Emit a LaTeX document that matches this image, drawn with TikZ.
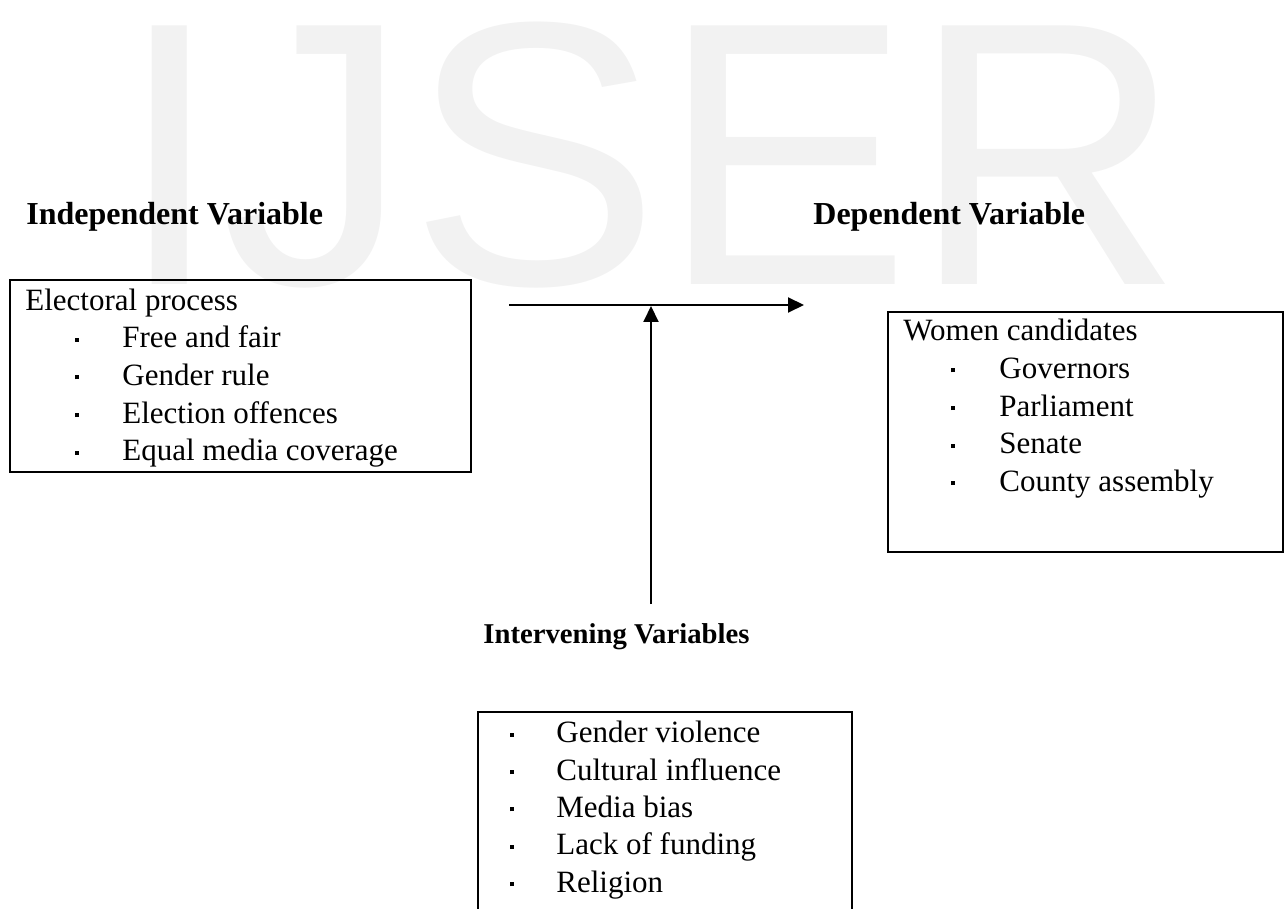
\documentclass[tikz,border=0pt]{standalone}
\usepackage{fontspec}
\setmainfont{Liberation Serif}
\newfontfamily\wmfont{Liberation Sans}
\usetikzlibrary{arrows.meta,fit}
\definecolor{wm}{RGB}{242,242,242}
\tikzset{
 txt/.style={anchor=base west, inner sep=0pt, font=\fontsize{15.5}{18.75}\selectfont},
 head/.style={anchor=base west, inner sep=0pt, font=\fontsize{16}{19}\selectfont\bfseries},
 bul/.style={anchor=base, inner sep=0pt},
 boxframe/.style={draw, line width=1.1pt, inner sep=0pt},
 arr/.style={line width=1pt, -{Triangle[length=8pt,width=7.5pt]}},
}
\newcommand{\bulletmark}{\raisebox{3pt}{\rule{2pt}{2pt}}}
\begin{document}
\begin{tikzpicture}[x=0.5pt,y=-0.5pt]
\useasboundingbox (0,0) rectangle (1286,909);
% watermark
\node[anchor=base west, inner sep=0pt, text=wm, font=\wmfont\fontsize{188}{200}\selectfont] (wmark) at (117,285) {IJSER};
% headings
\node[head] (indep) at (26,225) {Independent Variable};
\node[head] (dep) at (813,225) {Dependent Variable};
\node[anchor=base west, inner sep=0pt, font=\fontsize{14.35}{18}\selectfont\bfseries] (interv) at (483,643) {Intervening Variables};
% box 1
\coordinate (p1a) at (10,280); \coordinate (p1b) at (471,472);
\node[boxframe, fit=(p1a)(p1b)] (box1) {};
\node[txt] (etitle) at (25,310.5) {Electoral process};
\foreach \t [count=\i] in {Free and fair, Gender rule, Election offences, Equal media coverage} {
  \node[bul] (eb\i) at (77,310.5+37.5*\i) {\bulletmark};
  \node[txt] (ei\i) at (122,310.5+37.5*\i) {\t};
}
% box 2
\coordinate (p2a) at (888,312); \coordinate (p2b) at (1283,552);
\node[boxframe, fit=(p2a)(p2b)] (box2) {};
\node[txt] (wtitle) at (903,341) {Women candidates};
\foreach \t [count=\i] in {Governors, Parliament, Senate, County assembly} {
  \node[bul] (wb\i) at (953,341+37.5*\i) {\bulletmark};
  \node[txt] (wi\i) at (999,341+37.5*\i) {\t};
}
% box 3 (open at the bottom edge)
\draw[line width=1.1pt] (478,915) -- (478,712) -- (852,712) -- (852,915);
\foreach \t [count=\i] in {Gender violence, Cultural influence, Media bias, Lack of funding, Religion} {
  \node[bul] (ib\i) at (512,705.5+37.3*\i) {\bulletmark};
  \node[txt] (ii\i) at (556,705.5+37.3*\i) {\t};
}
% arrows
\coordinate (hs) at (509,305); \coordinate (he) at (804,305);
\draw[arr] (hs) -- (he);
\coordinate (vs) at (651,604); \coordinate (ve) at (651,306);
\draw[arr] (vs) -- (ve);
\end{tikzpicture}
\end{document}
